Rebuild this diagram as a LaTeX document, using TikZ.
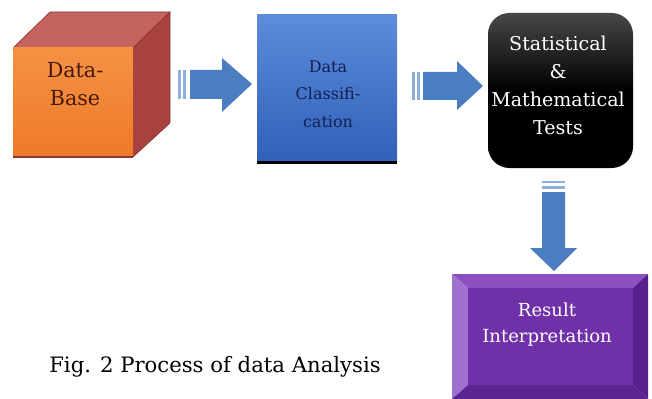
\documentclass[tikz,border=0pt]{standalone}
\usepackage{fontspec}
\setmainfont{DejaVu Serif}
\definecolor{arrowblue}{RGB}{74,126,192}
\definecolor{arrowlight}{RGB}{140,175,220}
\definecolor{cubefront}{RGB}{238,122,40}
\definecolor{cubefrontlight}{RGB}{245,145,68}
\definecolor{cubetop}{RGB}{196,100,96}
\definecolor{cuberight}{RGB}{168,66,64}
\definecolor{cubeedge}{RGB}{140,55,50}
\definecolor{cubetext}{RGB}{70,25,15}
\definecolor{bluetop}{RGB}{92,140,218}
\definecolor{bluebot}{RGB}{48,96,184}
\definecolor{navytext}{RGB}{20,30,80}
\definecolor{purpface}{RGB}{112,48,168}
\definecolor{purptop}{RGB}{140,80,192}
\definecolor{purpleft}{RGB}{160,112,208}
\definecolor{purpright}{RGB}{88,32,140}
\definecolor{purpbot}{RGB}{90,37,144}
\tikzset{
  blockarrow/.style={fill=arrowblue, draw=none},
  stripe/.style={fill=arrowlight, draw=none},
  boxtext/.style={align=center, inner sep=0pt},
}
\begin{document}
\begin{tikzpicture}[x=0.75pt,y=-0.75pt]
\useasboundingbox[fill=white] (0,0) rectangle (652,399);
% ---- cube (Data-Base)
\fill[cubetop, draw=cubeedge, line width=0.5pt] (13,48) -- (50,12) -- (170,12) -- (133,48) -- cycle;
\fill[cuberight, draw=cubeedge, line width=0.5pt] (133,48) -- (170,12) -- (170,123) -- (133,157) -- cycle;
\shade[top color=cubefrontlight, bottom color=cubefront] (13,48) rectangle (133,157);
\draw[cubeedge, line width=1pt] (13,157) -- (133,157);
\node[boxtext, text=cubetext, font=\fontsize{15.5}{20.5}\selectfont] (db) at (75,84) {Data-\\Base};
% ---- arrow 1
\fill[stripe] (178,70) rectangle (181,99);
\fill[stripe] (183,70) rectangle (186,99);
\fill[blockarrow] (190,70) -- (222,70) -- (222,58) -- (252,84) -- (222,112) -- (222,99) -- (190,99) -- cycle;
% ---- Data Classification
\shade[top color=bluetop, bottom color=bluebot] (257,15) rectangle (397,162);
\draw[black, line width=2.2pt] (257,162.5) -- (397,162.5);
\node[boxtext, text=navytext, font=\fontsize{12}{20.6}\selectfont] (dc) at (328,94) {Data\\Classifi-\\cation};
% ---- arrow 2
\fill[stripe] (412,72) rectangle (415,100);
\fill[stripe] (417,72) rectangle (420,100);
\fill[blockarrow] (423,72) -- (457,72) -- (457,61) -- (483,86) -- (457,110) -- (457,100) -- (423,100) -- cycle;
% ---- Statistical & Mathematical Tests
\shade[rounded corners=16pt, top color=black!72, bottom color=black, middle color=black] (488,13) rectangle (633,168);
\node[boxtext, text=white, font=\fontsize{14.3}{21}\selectfont] (st) at (558,85) {Statistical\\\&\\Mathematical\\Tests};
% ---- arrow 3 (down)
\fill[stripe] (542,181) rectangle (565,183);
\fill[stripe] (542,186) rectangle (565,189);
\fill[blockarrow] (542,192) -- (565,192) -- (565,248) -- (577,248) -- (554,271) -- (530,248) -- (542,248) -- cycle;
% ---- Result Interpretation (bevel)
\fill[purptop] (452,274) -- (648,274) -- (633,288) -- (468,288) -- cycle;
\fill[purpleft] (452,274) -- (468,288) -- (468,385) -- (452,399) -- cycle;
\fill[purpright] (648,274) -- (648,399) -- (633,385) -- (633,288) -- cycle;
\fill[purpbot] (452,399) -- (468,385) -- (633,385) -- (648,399) -- cycle;
\fill[purpface] (468,288) rectangle (633,385);
\node[boxtext, text=white, font=\fontsize{13.5}{19.5}\selectfont] (ri) at (547,325) {Result\\Interpretation};
% ---- caption
\node[inner sep=0pt, font=\fontsize{15.9}{18}\selectfont, anchor=base] (cap) at (215,372) {Fig. 2 Process of data Analysis};
\end{tikzpicture}
\end{document}
